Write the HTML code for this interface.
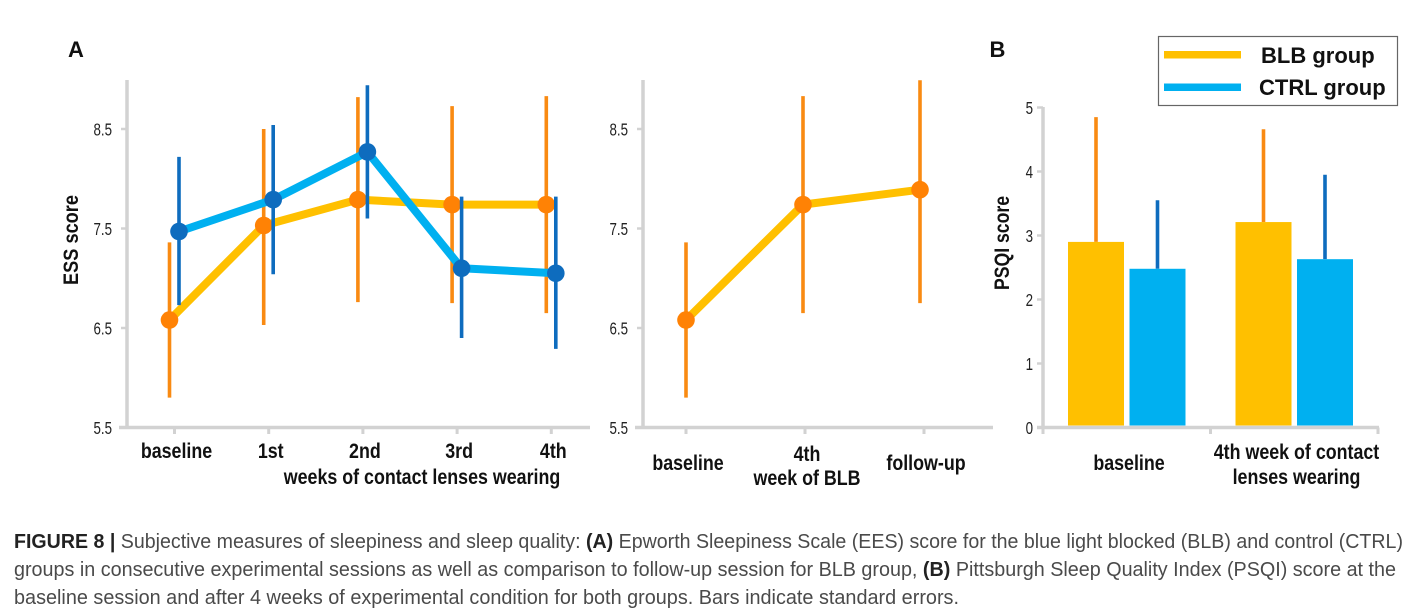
<!DOCTYPE html>
<html lang="en">
<head>
<meta charset="utf-8">
<title>Figure 8: sleepiness and sleep quality</title>
<style>
html,body{margin:0;padding:0;background:#fff;width:1422px;height:616px;overflow:hidden}
svg{display:block}
text{font-family:"Liberation Sans",sans-serif}
.b{font-weight:bold;fill:#111}
.cap{font-size:20.6px;fill:#4a4a4a}
.cap tspan.s{font-weight:bold;fill:#222}
</style>
</head>
<body>
<svg id="fig" width="1422" height="616" viewBox="0 0 1422 616" xmlns="http://www.w3.org/2000/svg">
  <text class="b" x="68" y="57" font-size="22">A</text>
  <text class="b" x="989.5" y="57" font-size="22">B</text>
  <g id="panelA"></g>
  <g id="panelM"></g>
  <g id="panelB"></g>
  <text class="b" font-size="21" transform="translate(422,484) scale(.85,1)" text-anchor="middle">weeks of contact lenses wearing</text>
  <text class="b" font-size="21" transform="translate(78,240) rotate(-90) scale(.866,1)" text-anchor="middle">ESS score</text>
  <text class="b" font-size="21" transform="translate(1009,243) rotate(-90) scale(.84,1)" text-anchor="middle">PSQI score</text>
  <g>
    <rect x="1158.5" y="36.5" width="239" height="69" fill="#fff" stroke="#666" stroke-width="1.2"/>
    <rect x="1164" y="51" width="77" height="7.5" fill="#FFC000"/>
    <rect x="1164" y="83.5" width="77" height="7.5" fill="#00B0F0"/>
    <text class="b" x="1261" y="63" font-size="22">BLB group</text>
    <text class="b" font-size="22" transform="translate(1259,95)">CTRL group</text>
  </g>
  <g>
    <text class="cap" x="14" y="548" textLength="1389" lengthAdjust="spacingAndGlyphs"><tspan class="s">FIGURE 8 | </tspan>Subjective measures of sleepiness and sleep quality: <tspan class="s">(A)</tspan> Epworth Sleepiness Scale (EES) score for the blue light blocked (BLB) and control (CTRL)</text>
    <text class="cap" x="14" y="576" textLength="1382" lengthAdjust="spacingAndGlyphs">groups in consecutive experimental sessions as well as comparison to follow-up session for BLB group, <tspan class="s">(B)</tspan> Pittsburgh Sleep Quality Index (PSQI) score at the</text>
    <text class="cap" x="14" y="604" textLength="945" lengthAdjust="spacingAndGlyphs">baseline session and after 4 weeks of experimental condition for both groups. Bars indicate standard errors.</text>
  </g>
</svg>
<script>
// ---- chart data ----
const essTicks = [5.5, 6.5, 7.5, 8.5];
const weekCategories = ['baseline', '1st', '2nd', '3rd', '4th'];
const blbWeeks = [6.58, 7.53, 7.79, 7.74, 7.74];
const blbWeeksHigh = [7.36, 8.50, 8.82, 8.73, 8.83];
const blbWeeksLow = [5.80, 6.53, 6.76, 6.75, 6.65];
const ctrlWeeks = [7.47, 7.79, 8.27, 7.10, 7.05];
const ctrlWeeksHigh = [8.22, 8.54, 8.94, 7.82, 7.82];
const ctrlWeeksLow = [6.73, 7.04, 7.60, 6.40, 6.29];

const followCategories = [['baseline'], ['4th', 'week of BLB'], ['follow-up']];
const blbFollow = [6.58, 7.74, 7.89];
const blbFollowHigh = [7.36, 8.83, 8.99];
const blbFollowLow = [5.80, 6.65, 6.75];

const psqiTicks = [0, 1, 2, 3, 4, 5];
const psqiCategories = [['baseline'], ['4th week of contact', 'lenses wearing']];
const psqiBlb = [2.90, 3.21];
const psqiBlbHigh = [4.85, 4.66];
const psqiCtrl = [2.48, 2.63];
const psqiCtrlHigh = [3.55, 3.95];

// ---- helpers ----
const NS = 'http://www.w3.org/2000/svg';
const AXIS = '#D2D2D2', ORANGE = '#F98A12', DOT = '#FF8205', YEL = '#FFC000', SKY = '#00B0F0', NAVY = '#0E6CBE';
function mk(parent, tag, attrs, txt) {
  const e = document.createElementNS(NS, tag);
  for (const k in attrs) e.setAttribute(k, attrs[k]);
  if (txt !== undefined) e.textContent = txt;
  parent.appendChild(e);
  return e;
}
function line(parent, x1, y1, x2, y2, color, w) {
  return mk(parent, 'line', {x1, y1, x2, y2, stroke: color, 'stroke-width': w});
}
function tickText(parent, x, y, txt) {
  return mk(parent, 'text', {'font-size': 18, fill: '#222', 'text-anchor': 'end',
    transform: `translate(${x},${y}) scale(.74,1)`}, txt);
}
function catText(parent, x, y, txt) {
  return mk(parent, 'text', {class: 'b', 'font-size': 21, 'text-anchor': 'middle',
    transform: `translate(${x},${y}) scale(.85,1)`}, txt);
}

// y axis + ticks for the two ESS panels
const essY = v => 427.5 - (v - 5.5) * 99.5;
function essAxes(g, axisX, axisEnd, xs) {
  let el = line(g, axisX, 80, axisX, 429, AXIS, 3.5);
  
  
  el = line(g, axisX - 8, essY(5.5), axisEnd, essY(5.5), AXIS, 3.5);
  
  
  essTicks.forEach(v => {
    el = line(g, axisX - 6, essY(v), axisX, essY(v), AXIS, 2.5);
    
    
    el = tickText(g, axisX - 15, essY(v) + 6.5, v.toFixed(1));
    
    
  });
  xs.forEach(x => {
    el = line(g, x, 427.5, x, 434, AXIS, 3);
    
    
  });
}
function series(g, name, xs, vals, hi, lo, errColor, lineColor, dotColor) {
  let el;
  vals.forEach((v, i) => {
    el = line(g, xs[i], essY(hi[i]), xs[i], essY(lo[i]), errColor, 3.6);
    
    
  });
  el = mk(g, 'polyline', {points: vals.map((v, i) => xs[i] + ',' + essY(v)).join(' '),
    fill: 'none', stroke: lineColor, 'stroke-width': 8, 'stroke-linejoin': 'round'});
  
  
  vals.forEach((v, i) => {
    el = mk(g, 'circle', {cx: xs[i], cy: essY(v), r: 8.8, fill: dotColor});
    
    
  });
}

// ---- Panel A, weeks ----
const gA = document.getElementById('panelA');
const weekX = i => 174.5 + i * 94.2;
const weekTicks = weekCategories.map((c, i) => weekX(i));
essAxes(gA, 127, 590, weekTicks);
series(gA, 'blb', weekTicks.map(x => x - 5), blbWeeks, blbWeeksHigh, blbWeeksLow, ORANGE, YEL, DOT);
series(gA, 'ctrl', weekTicks.map(x => x + 4.5), ctrlWeeks, ctrlWeeksHigh, ctrlWeeksLow, NAVY, SKY, NAVY);
weekCategories.forEach((c, i) => {
  const el = catText(gA, weekX(i) + 2, 458, c);
  
  
});

// ---- Panel A, follow-up ----
const gM = document.getElementById('panelM');
const followX = i => 686 + i * 119;
const followTicks = followCategories.map((c, i) => followX(i));
essAxes(gM, 643, 993, followTicks);
series(gM, 'blb-follow', followTicks.map((x, i) => x - i * 2), blbFollow, blbFollowHigh, blbFollowLow, ORANGE, YEL, DOT);
followCategories.forEach((rows, i) => {
  rows.forEach((r, j) => {
    const y = rows.length === 1 ? 470 : 461 + j * 24;
    const el = catText(gM, followX(i) + 2, y, r);
    
    
  });
});

// ---- Panel B, bars ----
const gB = document.getElementById('panelB');
const psqiY = v => 427.5 - v * 64;
const groupX = i => 1043 + i * 167.5;
const BW = 56;
let axisEl = line(gB, 1043, 107, 1043, 429, AXIS, 3.5);


axisEl = line(gB, 1037, 427.5, 1379, 427.5, AXIS, 3.5);


psqiTicks.forEach(v => {
  let el = line(gB, 1037, psqiY(v), 1043, psqiY(v), AXIS, 2.5);
  
  
  el = tickText(gB, 1033, psqiY(v) + 6.5, String(v));
  
  
});
psqiCategories.forEach((rows, i) => {
  [0, 1].forEach(k => {
    const el = line(gB, groupX(i + k), 427.5, groupX(i + k), 434, AXIS, 3);
    
    
  });
  const x1 = groupX(i) + 25, x2 = x1 + 61.5;
  let el = line(gB, x1 + BW / 2, psqiY(psqiBlbHigh[i]), x1 + BW / 2, psqiY(psqiBlb[i]), ORANGE, 3.6);
  
  
  el = line(gB, x2 + BW / 2, psqiY(psqiCtrlHigh[i]), x2 + BW / 2, psqiY(psqiCtrl[i]), NAVY, 3.6);
  
  
  el = mk(gB, 'rect', {x: x1, y: psqiY(psqiBlb[i]), width: BW, height: 425.5 - psqiY(psqiBlb[i]), fill: YEL});
  
  
  el = mk(gB, 'rect', {x: x2, y: psqiY(psqiCtrl[i]), width: BW, height: 425.5 - psqiY(psqiCtrl[i]), fill: SKY});
  
  
  rows.forEach((r, j) => {
    const y = rows.length === 1 ? 470 : 459 + j * 25;
    const t = catText(gB, groupX(i) + 86, y, r);
    
    
  });
});
</script>
</body>
</html>
